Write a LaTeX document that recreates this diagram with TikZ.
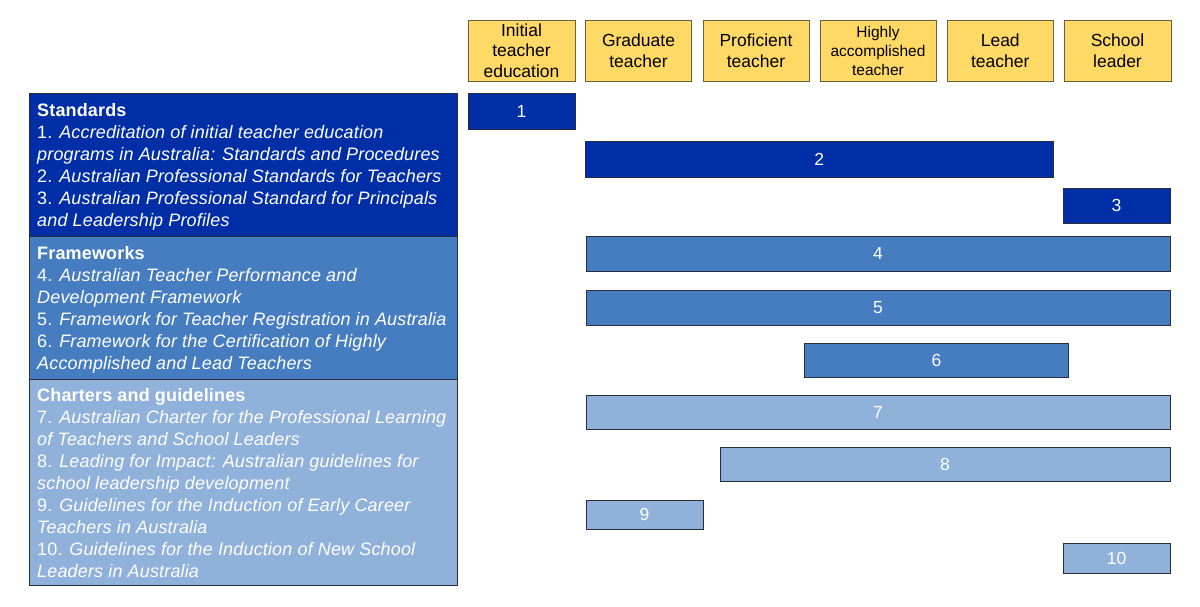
\documentclass[tikz,border=0pt]{standalone}
\usepackage{fontspec}
\setmainfont{Liberation Sans}
\newfontfamily\trackfont[LetterSpace=0.9]{Liberation Sans}
\definecolor{dblue}{RGB}{0,46,166}
\definecolor{mblue}{RGB}{70,125,192}
\definecolor{lblue}{RGB}{143,177,218}
\definecolor{hyellow}{RGB}{255,217,102}
\definecolor{hborder}{RGB}{110,95,60}
\definecolor{bborder}{RGB}{40,45,60}
\begin{document}
\begin{tikzpicture}[x=1pt,y=-1pt,
  hdr/.style={draw=hborder, line width=0.9pt, fill=hyellow, align=center, inner sep=0pt,
    minimum height=61pt, font=\fontsize{17.5}{20.5}\selectfont},
  barbox/.style={draw=bborder, line width=1pt, text=white, inner sep=0pt,
    font=\fontsize{17.5}{20}\selectfont},
  panel/.style={draw=bborder, line width=1.2pt, anchor=north west, inner sep=0pt, minimum width=428pt},
  ptext/.style={anchor=north west, align=left, inner sep=0pt, text=white,
    font=\trackfont\fontsize{18}{22}\selectfont}]
\useasboundingbox (0,0) rectangle (1200,606);
\fill[white] (0,0) rectangle (1200,606);

% header row
\node[hdr, minimum width=107pt] (h1) at (521.5,50.5) {Initial\\teacher\\education};
\node[hdr, minimum width=106pt] (h2) at (638.5,50.5) {Graduate\\teacher};
\node[hdr, minimum width=106pt] (h3) at (756,50.5) {Proficient\\teacher};
\node[hdr, minimum width=116pt, font=\fontsize{15.5}{19}\selectfont] (h4) at (878,50.5) {Highly\\accomplished\\teacher};
\node[hdr, minimum width=106.5pt] (h5) at (1000.25,50.5) {Lead\\teacher};
\node[hdr, minimum width=107pt] (h6) at (1117.5,50.5) {School\\leader};

% left panels
\node[panel, fill=dblue, minimum height=143pt] (s1) at (29,93) {};
\node[panel, fill=mblue, minimum height=142.5pt] (s2) at (29,236) {};
\node[panel, fill=lblue, minimum height=206.5pt] (s3) at (29,378.5) {};

\node[ptext] (t1) at (37,103) {\bfseries Standards\\
1. \itshape Accreditation of initial teacher education\\
\itshape programs in Australia: Standards and Procedures\\
2. \itshape Australian Professional Standards for Teachers\\
3. \itshape Australian Professional Standard for Principals\\
\itshape and Leadership Profiles};

\node[ptext] (t2) at (37,246) {\bfseries Frameworks\\
4. \itshape Australian Teacher Performance and\\
\itshape Development Framework\\
5. \itshape Framework for Teacher Registration in Australia\\
6. \itshape Framework for the Certification of Highly\\
\itshape Accomplished and Lead Teachers};

\node[ptext] (t3) at (37,388.3) {\bfseries Charters and guidelines\\
7. \itshape Australian Charter for the Professional Learning\\
\itshape of Teachers and School Leaders\\
8. \itshape Leading for Impact: Australian guidelines for\\
\itshape school leadership development\\
9. \itshape Guidelines for the Induction of Early Career\\
\itshape Teachers in Australia\\
10. \itshape Guidelines for the Induction of New School\\
\itshape Leaders in Australia};

% bars
\node[barbox, fill=dblue, minimum width=107pt, minimum height=36pt] (b1) at (521.5,111) {1};
\node[barbox, fill=dblue, minimum width=467.5pt, minimum height=35.5pt] (b2) at (819.25,159.25) {2};
\node[barbox, fill=dblue, minimum width=107pt, minimum height=35pt] (b3) at (1116.5,205.5) {3};
\node[barbox, fill=mblue, minimum width=584pt, minimum height=35.5pt] (b4) at (878,253.75) {4};
\node[barbox, fill=mblue, minimum width=584pt, minimum height=35pt] (b5) at (878,307.5) {5};
\node[barbox, fill=mblue, minimum width=264pt, minimum height=34.5pt] (b6) at (936.5,360.25) {6};
\node[barbox, fill=lblue, minimum width=584pt, minimum height=34pt] (b7) at (878,412.5) {7};
\node[barbox, fill=lblue, minimum width=450pt, minimum height=34pt] (b8) at (945,464.5) {8};
\node[barbox, fill=lblue, minimum width=117pt, minimum height=29.5pt] (b9) at (644.5,514.75) {9};
\node[barbox, fill=lblue, minimum width=107pt, minimum height=30pt] (b10) at (1116.5,558) {10};
\end{tikzpicture}
\end{document}
